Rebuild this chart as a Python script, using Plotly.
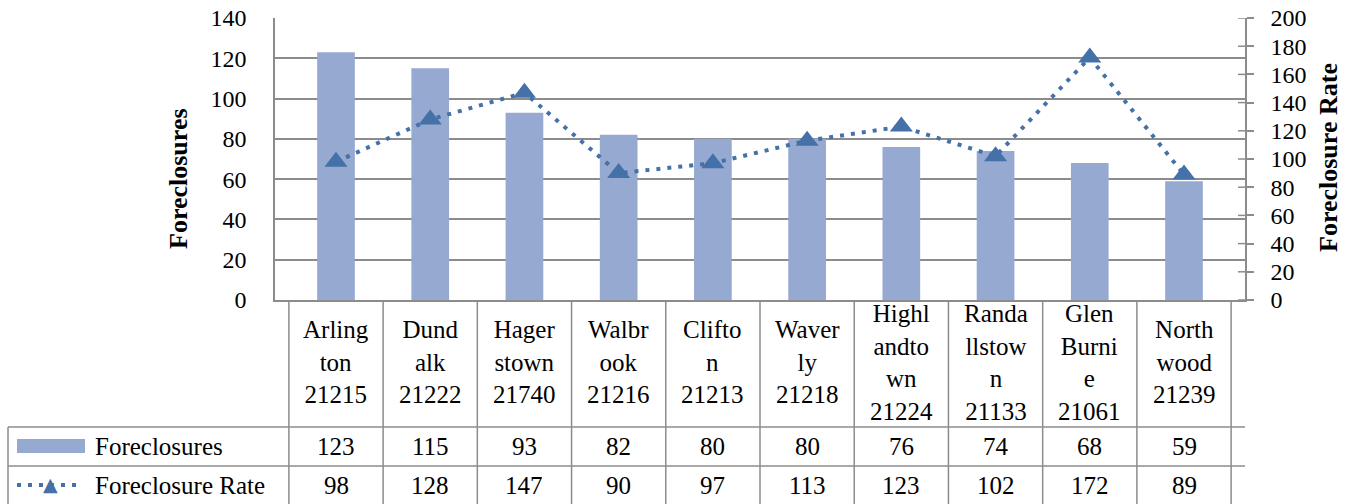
import plotly.graph_objects as go

# Data
areas = ["Arling<br>ton<br>21215", "Dund<br>alk<br>21222", "Hager<br>stown<br>21740",
         "Walbr<br>ook<br>21216", "Clifto<br>n<br>21213", "Waver<br>ly<br>21218",
         "Highl<br>andto<br>wn<br>21224", "Randa<br>llstow<br>n<br>21133",
         "Glen<br>Burni<br>e<br>21061", "North<br>wood<br>21239"]
foreclosures = [123, 115, 93, 82, 80, 80, 76, 74, 68, 59]
foreclosure_rate = [98, 128, 147, 90, 97, 113, 123, 102, 172, 89]
left_ticks = [0, 20, 40, 60, 80, 100, 120, 140]
right_ticks = [0, 20, 40, 60, 80, 100, 120, 140, 160, 180, 200]

W, H = 1351, 504
L, R, T, B = 275, 1245, 18, 300   # plot area in pixels

BAR = "#95A9D1"
LINE = "#4471A8"
GRID = "#8C8C8C"
FONT = "Liberation Serif, Times New Roman, DejaVu Serif, serif"


def px(x):
    return (x - L) / (R - L)


def py(y):
    return (B - y) / (B - T)


fig = go.Figure()
fig.add_trace(go.Bar(x=areas, y=foreclosures, name="Foreclosures",
                     marker=dict(color=BAR, line=dict(width=0)), width=0.4))
fig.add_trace(go.Scatter(x=areas, y=foreclosure_rate, name="Foreclosure Rate", yaxis="y2",
                         mode="lines+markers",
                         line=dict(color=LINE, width=4, dash="4px,7px"),
                         marker=dict(symbol="triangle-up", size=20, color=LINE)))

fig.update_layout(
    width=W, height=H,
    margin=dict(l=L, r=W - R, t=T, b=H - B, autoexpand=False),
    paper_bgcolor="white", plot_bgcolor="white",
    showlegend=False,
    font=dict(family=FONT, size=24, color="black"),
    xaxis=dict(showticklabels=False, showgrid=False, showline=True, linecolor=GRID,
               linewidth=1.5, ticks="", zeroline=False, automargin=False),
    yaxis=dict(range=[0, 140], tickvals=left_ticks, showgrid=True, gridcolor=GRID,
               gridwidth=1.5, showline=True, linecolor=GRID, linewidth=1.5,
               zeroline=False, ticks="", ticklabelstandoff=22, automargin=False,
               ticklabeloverflow="allow"),
    yaxis2=dict(range=[0, 200], tickvals=right_ticks, overlaying="y", side="right",
                showgrid=False, showline=True, linecolor=GRID, linewidth=1.5,
                zeroline=False, ticks="outside", ticklen=7, tickcolor=GRID,
                tickwidth=1.5, ticklabelstandoff=12, automargin=False,
                ticklabeloverflow="allow"),
)

shapes = []
line_style = dict(color=GRID, width=1.5)
# column separators of the data table
for i in range(len(areas) + 1):
    shapes.append(dict(type="line", xref="x", yref="paper", x0=i - 0.5, x1=i - 0.5,
                       y0=py(300), y1=py(510), line=line_style, layer="above"))
# row separators
for yy in [427, 466]:
    shapes.append(dict(type="line", xref="paper", yref="paper", x0=px(8), x1=1,
                       y0=py(yy), y1=py(yy), line=line_style))
shapes.append(dict(type="line", xref="paper", yref="paper", x0=px(8), x1=px(8),
                   y0=py(427), y1=py(510), line=line_style))
# inner half of the right-axis ticks
for v in right_ticks:
    shapes.append(dict(type="line", xref="paper", yref="y2", x0=1 - 7 / (R - L), x1=1,
                       y0=v, y1=v, line=line_style))
# legend keys
shapes.append(dict(type="rect", xref="paper", yref="paper", x0=px(17), x1=px(85),
                   y0=py(453), y1=py(439), fillcolor=BAR, line=dict(width=0)))
shapes.append(dict(type="line", xref="paper", yref="paper", x0=px(17), x1=px(82),
                   y0=py(485), y1=py(485),
                   line=dict(color=LINE, width=4, dash="4px,7px")))
fig.update_layout(shapes=shapes)

tf = dict(family=FONT, size=25, color="black")
ann = []
for i, a in enumerate(areas):
    ann.append(dict(x=a, y=py(362), xref="x", yref="paper", text=a, showarrow=False,
                    xanchor="center", yanchor="middle", align="center", font=tf))
    ann.append(dict(x=a, y=py(446), xref="x", yref="paper", text=str(foreclosures[i]),
                    showarrow=False, xanchor="center", yanchor="middle", font=tf))
    ann.append(dict(x=a, y=py(485), xref="x", yref="paper", text=str(foreclosure_rate[i]),
                    showarrow=False, xanchor="center", yanchor="middle", font=tf))
ann.append(dict(x=px(93), y=py(446), xref="paper", yref="paper", text="Foreclosures",
                showarrow=False, xanchor="left", yanchor="middle", font=tf))
ann.append(dict(x=px(93), y=py(485), xref="paper", yref="paper", text="Foreclosure Rate",
                showarrow=False, xanchor="left", yanchor="middle", font=tf))
ann.append(dict(x=px(50), y=py(484), xref="paper", yref="paper", text="▲",
                font=dict(family="DejaVu Sans", size=19, color=LINE),
                showarrow=False, xanchor="center", yanchor="middle"))
titlef = dict(family=FONT, size=26, color="black")
ann.append(dict(x=px(178), y=py(179), xref="paper", yref="paper", text="<b>Foreclosures</b>",
                textangle=-90, showarrow=False, xanchor="center", yanchor="middle",
                font=titlef))
ann.append(dict(x=px(1328), y=py(158), xref="paper", yref="paper",
                text="<b>Foreclosure Rate</b>", textangle=-90, showarrow=False,
                xanchor="center", yanchor="middle", font=titlef))
fig.update_layout(annotations=ann)

# drop the default 8px page margin so the figure fills the window exactly
fig.write_html("out.html", config={"displayModeBar": False},
               post_script="document.body.style.margin='0';")
